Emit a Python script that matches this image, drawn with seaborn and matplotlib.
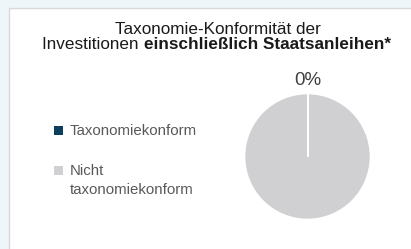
import matplotlib
matplotlib.use("Agg")
import matplotlib.pyplot as plt
from matplotlib.patches import Rectangle
import numpy as np
import seaborn as sns

# Data
categories = ["Taxonomiekonform", "Nicht\ntaxonomiekonform"]
values = [0, 100]
colors = ["#0c3f5e", "#d0cfd1"]
title_line1 = "Taxonomie-Konformität der"
title_line2_regular = "Investitionen "
title_line2_bold = "einschließlich Staatsanleihen*"

sns.set_theme(style="white")
plt.rcParams["font.family"] = ["Liberation Sans", "DejaVu Sans"]

W, H = 411, 249
fig = plt.figure(figsize=(W / 100, H / 100), dpi=100)
fig.patch.set_facecolor("#eff6fa")

# white panel
panel = Rectangle((9 / W, -0.05), 1.1, 1 - 8 / H + 0.05, transform=fig.transFigure,
                  facecolor="white", edgecolor="#d8d8d8", linewidth=1.0, zorder=-5)
fig.patches.append(panel)

# pie axes
cx, cy, r = 307.5, 156.5, 63
ax = fig.add_axes([(cx - r) / W, (H - cy - r) / H, 2 * r / W, 2 * r / H])
ax.set_zorder(2)
ax.patch.set_alpha(0)
wedges, _ = ax.pie(values, colors=colors, startangle=90, counterclock=False, radius=1,
                   wedgeprops=dict(edgecolor="white", linewidth=1.2))
# slice boundaries (zero-width slice shows as a white radius)
for w in wedges:
    ang = np.deg2rad(w.theta1)
    ax.plot([w.center[0], w.center[0] + w.r * np.cos(ang)],
            [w.center[1], w.center[1] + w.r * np.sin(ang)],
            color="white", lw=1.3, solid_capstyle="butt")
ax.set_xlim(-1, 1)
ax.set_ylim(-1, 1)
ax.set_aspect("auto")
ax.axis("off")
ax.text(0, 1.14, f"{values[0]:.0f}%", ha="center", va="baseline", fontsize=13.5,
        color="#404040")

# title
fs = 12.3
tc = "#1a1a1a"
fig.text(218 / W, 1 - 34 / H, title_line1, ha="center", va="baseline", fontsize=fs,
         color=tc)
renderer = fig.canvas.get_renderer()
t1 = fig.text(0, 1 - 49.3 / H, title_line2_regular, ha="left", va="baseline",
              fontsize=fs, color=tc)
t2 = fig.text(0, 1 - 49.3 / H, title_line2_bold, ha="left", va="baseline", fontsize=fs,
              fontweight="bold", color=tc)
w1 = t1.get_window_extent(renderer).width
w2 = t2.get_window_extent(renderer).width
center = 216.5
x0 = center - (w1 + w2) / 2
t1.set_x(x0 / W)
t2.set_x((x0 + w1) / W)

# legend (manual)
lfs = 10.8
leg_base = [135, 175]
line_step = 18.7
for label, col, yb in zip(categories, colors, leg_base):
    fig.patches.append(Rectangle((54 / W, 1 - (yb - 0.2) / H), 9 / W, 8.5 / H,
                                 transform=fig.transFigure, facecolor=col,
                                 edgecolor="none"))
    for i, line in enumerate(label.split("\n")):
        fig.text(70 / W, 1 - (yb + i * line_step) / H, line, ha="left",
                 va="baseline", fontsize=lfs, color="#595959")

fig.savefig("out.png", dpi=100, facecolor=fig.get_facecolor())
